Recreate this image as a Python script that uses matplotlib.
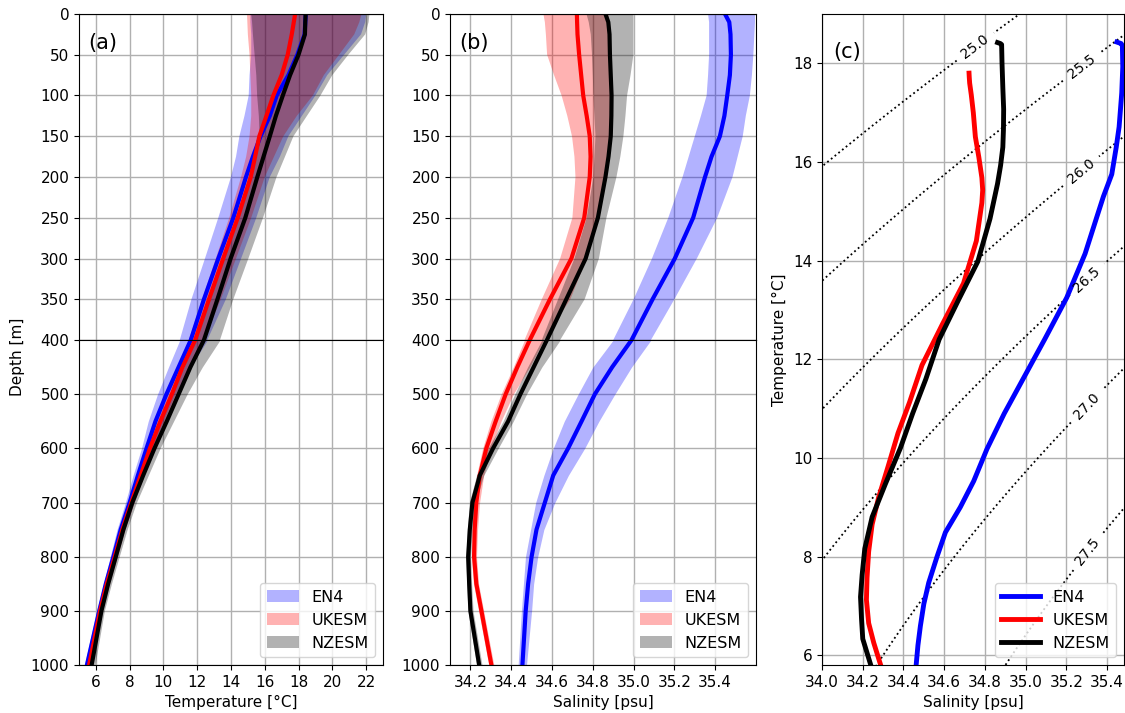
import numpy as np
import matplotlib.pyplot as plt

# depth levels [m]
depth = [0, 10, 25, 50, 75, 100, 125, 150, 175, 200, 250, 300, 350, 400,
         450, 500, 550, 600, 650, 700, 750, 800, 850, 900, 1000]

# mean temperature [degC]
en4_temp = [18.43, 18.40, 18.36, 17.93, 17.40, 16.71, 16.30, 15.75, 15.30, 14.89, 14.14, 13.25, 12.40, 11.62,
            10.90, 10.18, 9.53, 9.00, 8.49, 8.00, 7.47, 7.04, 6.59, 6.20, 5.47]
ukesm_temp = [17.80, 17.72, 17.60, 17.36, 17.00, 16.51, 16.10, 15.68, 15.43, 15.17, 14.40, 13.54, 12.70, 11.88,
              11.13, 10.50, 9.82, 9.20, 8.65, 8.10, 7.57, 7.12, 6.65, 6.25, 5.60]
nzesm_temp = [18.42, 18.40, 18.38, 18.00, 17.50, 17.07, 16.66, 16.30, 15.93, 15.56, 14.85, 13.98, 13.20, 12.40,
              11.60, 10.90, 10.20, 9.47, 8.80, 8.16, 7.63, 7.18, 6.73, 6.33, 5.75]

# temperature spread (low / high)
en4_temp_lo = [15.15, 15.15, 15.2, 15.2, 15.1, 15.05, 14.8, 14.5, 14.3, 14.0, 13.25, 12.46, 11.66, 10.97,
               10.3, 9.65, 9.1, 8.7, 8.2, 7.75, 7.25, 6.85, 6.45, 6.05, 5.32]
en4_temp_hi = [22.0, 21.95, 21.7, 20.7, 19.7, 19.0, 18.2, 17.4, 16.9, 16.3, 15.5, 14.6, 13.7, 12.6,
               11.6, 10.7, 10.0, 9.35, 8.8, 8.25, 7.7, 7.25, 6.75, 6.35, 5.6]
ukesm_temp_lo = [14.95, 14.97, 15.0, 15.1, 15.15, 15.2, 15.2, 15.1, 14.9, 14.6, 13.9, 13.1, 12.3, 11.5,
                 10.85, 10.25, 9.6, 9.0, 8.47, 7.95, 7.42, 6.98, 6.52, 6.12, 5.48]
ukesm_temp_hi = [21.73, 21.6, 21.3, 20.4, 19.5, 18.85, 17.9, 17.1, 16.55, 16.0, 15.2, 14.3, 13.4, 12.4,
                 11.5, 10.8, 10.05, 9.42, 8.85, 8.27, 7.72, 7.27, 6.8, 6.38, 5.72]
nzesm_temp_lo = [15.2, 15.25, 15.3, 15.4, 15.5, 15.55, 15.65, 15.7, 15.4, 15.1, 14.4, 13.5, 12.6, 11.9,
                 11.2, 10.5, 9.85, 9.15, 8.5, 7.95, 7.42, 6.98, 6.56, 6.16, 5.58]
nzesm_temp_hi = [22.2, 22.15, 21.95, 20.95, 20.0, 19.3, 18.5, 17.7, 17.2, 16.7, 15.9, 15.03, 14.14, 13.35,
                 12.3, 11.4, 10.6, 9.8, 9.1, 8.4, 7.85, 7.38, 6.92, 6.5, 5.95]

# mean salinity [psu]
en4_sal = [35.448, 35.469, 35.475, 35.477, 35.472, 35.459, 35.445, 35.423, 35.382, 35.350, 35.292, 35.202, 35.093, 34.990,
           34.895, 34.810, 34.745, 34.679, 34.606, 34.565, 34.524, 34.500, 34.483, 34.471, 34.455]
ukesm_sal = [34.722, 34.723, 34.725, 34.733, 34.743, 34.753, 34.770, 34.785, 34.789, 34.785, 34.758, 34.695, 34.590, 34.491,
             34.430, 34.373, 34.324, 34.278, 34.246, 34.229, 34.221, 34.218, 34.229, 34.254, 34.303]
nzesm_sal = [34.862, 34.876, 34.882, 34.884, 34.888, 34.892, 34.891, 34.888, 34.877, 34.862, 34.825, 34.765, 34.670, 34.575,
             34.510, 34.445, 34.385, 34.311, 34.246, 34.210, 34.197, 34.189, 34.194, 34.200, 34.243]

# salinity spread (low / high)
en4_sal_lo = [35.365, 35.37, 35.37, 35.37, 35.365, 35.358, 35.33, 35.30, 35.27, 35.24, 35.17, 35.09, 35.0, 34.9,
              34.8, 34.728, 34.66, 34.606, 34.56, 34.52, 34.495, 34.47, 34.46, 34.45, 34.434]
en4_sal_hi = [35.595, 35.595, 35.592, 35.587, 35.58, 35.57, 35.55, 35.535, 35.51, 35.485, 35.41, 35.31, 35.2, 35.085,
              34.99, 34.908, 34.83, 34.76, 34.68, 34.614, 34.56, 34.53, 34.51, 34.5, 34.475]
ukesm_sal_lo = [34.558, 34.565, 34.57, 34.576, 34.61, 34.647, 34.675, 34.698, 34.71, 34.715, 34.70, 34.64, 34.55, 34.465,
                34.41, 34.35, 34.30, 34.26, 34.23, 34.215, 34.21, 34.205, 34.215, 34.24, 34.29]
ukesm_sal_hi = [34.876, 34.88, 34.883, 34.886, 34.89, 34.892, 34.89, 34.886, 34.878, 34.87, 34.83, 34.77, 34.69, 34.56,
                34.49, 34.41, 34.35, 34.30, 34.265, 34.245, 34.235, 34.23, 34.24, 34.265, 34.315]
nzesm_sal_lo = [34.769, 34.78, 34.79, 34.796, 34.80, 34.803, 34.808, 34.813, 34.808, 34.803, 34.77, 34.71, 34.63, 34.55,
                34.48, 34.417, 34.36, 34.287, 34.23, 34.195, 34.185, 34.178, 34.182, 34.188, 34.23]
nzesm_sal_hi = [34.999, 34.999, 34.999, 34.999, 34.985, 34.968, 34.96, 34.95, 34.935, 34.916, 34.867, 34.83, 34.76, 34.64,
                34.55, 34.475, 34.41, 34.336, 34.265, 34.225, 34.21, 34.2, 34.206, 34.213, 34.257]

names = ['EN4', 'UKESM', 'NZESM']
colors = ['blue', 'red', 'black']

sigma_levels = [25.0, 25.5, 26.0, 26.5, 27.0, 27.5]
label_pos = [(34.75, 18.35), (35.27, 17.95), (35.26, 15.87), (35.30, 13.63), (35.30, 11.06), (35.30, 8.11)]


def sigma0(S, T):
    # UNESCO 1981 density at surface pressure, minus 1000
    rho_w = (999.842594 + 6.793952e-2 * T - 9.095290e-3 * T**2 + 1.001685e-4 * T**3
             - 1.120083e-6 * T**4 + 6.536332e-9 * T**5)
    A = 0.824493 - 4.0899e-3 * T + 7.6438e-5 * T**2 - 8.2467e-7 * T**3 + 5.3875e-9 * T**4
    B = -5.72466e-3 + 1.0227e-4 * T - 1.6546e-6 * T**2
    C = 4.8314e-4
    return rho_w + A * S + B * S**1.5 + C * S**2 - 1000.0


def profile(ax_top, ax_bot, means, lows, highs, xlim, xticks, label, tag):
    for ax in (ax_top, ax_bot):
        for m, lo, hi, c, n in zip(means, lows, highs, colors, names):
            ax.fill_betweenx(depth, lo, hi, color=c, alpha=0.3, lw=0, label=n)
        for m, c in zip(means, colors):
            ax.plot(m, depth, color=c, lw=3)
        ax.set_xlim(*xlim)
        ax.set_xticks(xticks)
        ax.grid(True, color='#b0b0b0', lw=1)
        ax.set_axisbelow(True)
        ax.tick_params(labelsize=11)
    ax_top.set_ylim(400, 0)
    ax_top.set_yticks(np.arange(0, 401, 50))
    ax_top.tick_params(labelbottom=False)
    ax_bot.set_ylim(1000, 400)
    ax_bot.set_yticks(np.arange(500, 1001, 100))
    ax_bot.set_xlabel(label, fontsize=11)
    ax_bot.legend(loc='lower right', fontsize=11.5)
    ax_top.text(0.03, 0.91, tag, transform=ax_top.transAxes, fontsize=15, va='center')


fig = plt.figure(figsize=(11.25, 7.13), dpi=100)

ax_a1 = fig.add_axes([0.0702, 0.5231, 0.2702, 0.4573])
ax_a2 = fig.add_axes([0.0702, 0.0673, 0.2702, 0.4558])
ax_b1 = fig.add_axes([0.4000, 0.5231, 0.2720, 0.4573])
ax_b2 = fig.add_axes([0.4000, 0.0673, 0.2720, 0.4558])
ax_c = fig.add_axes([0.7307, 0.0673, 0.2684, 0.9131])

profile(ax_a1, ax_a2, [en4_temp, ukesm_temp, nzesm_temp],
        [en4_temp_lo, ukesm_temp_lo, nzesm_temp_lo],
        [en4_temp_hi, ukesm_temp_hi, nzesm_temp_hi],
        (5, 23), np.arange(6, 23, 2), 'Temperature [°C]', '(a)')
profile(ax_b1, ax_b2, [en4_sal, ukesm_sal, nzesm_sal],
        [en4_sal_lo, ukesm_sal_lo, nzesm_sal_lo],
        [en4_sal_hi, ukesm_sal_hi, nzesm_sal_hi],
        (34.1, 35.6), np.round(np.arange(34.2, 35.41, 0.2), 1), 'Salinity [psu]', '(b)')
fig.text(0.016, 0.4993, 'Depth [m]', rotation=90, va='center', ha='center', fontsize=11)

# T-S diagram
s_grid = np.linspace(33.9, 35.6, 200)
t_grid = np.linspace(5.0, 20.0, 200)
SS, TT = np.meshgrid(s_grid, t_grid)
cs = ax_c.contour(SS, TT, sigma0(SS, TT), levels=sigma_levels, colors='k',
                  linestyles='dotted', linewidths=1.3)
ax_c.clabel(cs, fmt='%.1f', fontsize=10, inline=True, manual=label_pos)
for s, t, c, n in zip([en4_sal, ukesm_sal, nzesm_sal], [en4_temp, ukesm_temp, nzesm_temp], colors, names):
    ax_c.plot(s, t, color=c, lw=3.5, label=n)
ax_c.set_xlim(34.0, 35.483)
ax_c.set_ylim(5.8, 19.0)
ax_c.set_xticks(np.round(np.arange(34.0, 35.41, 0.2), 1))
ax_c.set_yticks(np.arange(6, 19, 2))
ax_c.grid(True, color='#b0b0b0', lw=1)
ax_c.set_axisbelow(True)
ax_c.tick_params(labelsize=11)
ax_c.set_xlabel('Salinity [psu]', fontsize=11)
ax_c.set_ylabel('Temperature [°C]', fontsize=11)
ax_c.legend(loc='lower right', fontsize=11.5, handlelength=2.4)
ax_c.text(0.036, 0.942, '(c)', transform=ax_c.transAxes, fontsize=15, va='center')

fig.savefig('out.png', dpi=100)
